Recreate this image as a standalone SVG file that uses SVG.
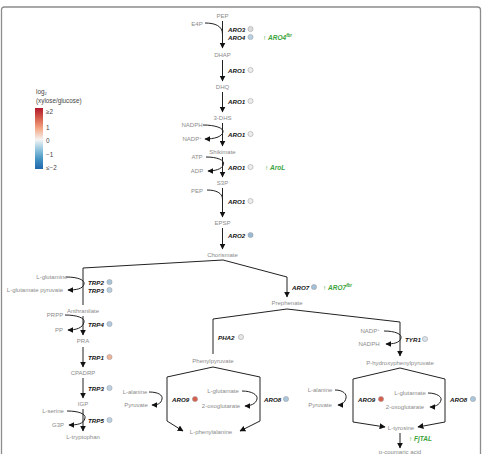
<svg xmlns="http://www.w3.org/2000/svg" width="484" height="454" viewBox="0 0 484 454">
<defs>
<marker id="ah" viewBox="0 0 10 10" refX="9" refY="5" markerWidth="6" markerHeight="6" markerUnits="userSpaceOnUse" orient="auto"><path d="M0,0 L10,5 L0,10 z" fill="#111"/></marker>
<linearGradient id="lg" x1="0" y1="0" x2="0" y2="1">
<stop offset="0" stop-color="#b2182b"/><stop offset="0.17" stop-color="#d6604d"/><stop offset="0.33" stop-color="#f4a582"/><stop offset="0.52" stop-color="#f4f4f4"/><stop offset="0.68" stop-color="#92c5de"/><stop offset="0.84" stop-color="#4393c3"/><stop offset="1" stop-color="#2166ac"/>
</linearGradient>
</defs>
<style>
text{font-family:"Liberation Sans",Arial,sans-serif;dominant-baseline:central}
.m{font-size:6px;fill:#8a8a8a;text-anchor:middle}
.e{font-size:6.2px;font-weight:bold;font-style:italic;fill:#111}
.g{font-size:6.5px;font-weight:bold;font-style:italic;fill:#3aa33a}
.l{font-size:6.3px;fill:#444}
.c{stroke:#999;stroke-width:0.5}
.ln{fill:none;stroke:#222;stroke-width:1}
.a{fill:none;stroke:#222;stroke-width:1;marker-end:url(#ah)}
</style>
<path d="M1.5,454 V10 Q1.5,7 4.5,7 H477.5 Q480.5,7 480.5,10 V454" fill="none" stroke="#8c8c8c" stroke-width="1.3"/>
<g id="legend">
<text class="l" x="36" y="91">log<tspan font-size="4" dy="2">2</tspan></text>
<text class="l" x="36" y="100">(xylose/glucose)</text>
<rect x="35" y="108" width="8" height="61" fill="url(#lg)"/>
<text class="l" x="46" y="111">≥2</text>
<text class="l" x="46" y="127">1</text>
<text class="l" x="46" y="140">0</text>
<text class="l" x="46" y="154">−1</text>
<text class="l" x="46" y="167">≤−2</text>
</g>
<g id="connectors">
<line class="a" x1="222.5" y1="21" x2="222.5" y2="48"/>
<path class="ln" d="M205,23 C215,23 222.5,26 222.5,34"/>
<line class="a" x1="222.5" y1="60" x2="222.5" y2="81"/>
<line class="a" x1="222.5" y1="92" x2="222.5" y2="112"/>
<line class="a" x1="222.5" y1="123" x2="222.5" y2="146"/>
<path class="a" d="M203,125 C215,125 224,128 223,132 C222,137 214,139 205,139"/>
<line class="a" x1="222.5" y1="157" x2="222.5" y2="177"/>
<path class="a" d="M206,157 C217,157 225,160 223.5,164.5 C222,169.5 214,171 208,171"/>
<line class="a" x1="222.5" y1="188" x2="222.5" y2="217"/>
<path class="ln" d="M207,190 C216,190 222.5,193 222.5,199"/>
<line class="a" x1="222.5" y1="228" x2="222.5" y2="249"/>
<path class="a" d="M83,305 V268 L223,260 L287,277 V297"/>
<path class="a" d="M66,277 C78,277 85,280 84,284 C83,289 76,290 68,290"/>
<line class="a" x1="83" y1="316" x2="83" y2="335"/>
<path class="a" d="M65,315 C77,315 85,318 84,322 C83,328 76,330 68,330"/>
<line class="a" x1="83" y1="347" x2="83" y2="367"/>
<line class="a" x1="83" y1="378" x2="83" y2="398"/>
<line class="a" x1="83" y1="409" x2="83" y2="431"/>
<path class="a" d="M67,411 C79,411 86,414 85,418 C84,424 77,425 69,425"/>
<path class="a" d="M213,354 V319 L287,309 L400,322 V356"/>
<path class="a" d="M384,331 C395,331 402,334 401,338 C400,343 393,344 386,344"/>
<path class="a" d="M213,367 L167,377 V421 L183,431"/>
<path class="a" d="M213,367 L260,377 V421 L240,431"/>
<path class="a" d="M149,392 C158,392 163,395 162,399 C161,404 157,405 152,405"/>
<path class="a" d="M242,391 C252,391 258,395 257,399 C256,404 250,406 245,406"/>
<path class="a" d="M400,368 L353,379 V422 L385,427"/>
<path class="a" d="M400,368 L445,379 V422 L418,427"/>
<path class="a" d="M335,390 C343,390 347,394 346,398 C345,403 341,405 338,405"/>
<path class="a" d="M428,393 C437,393 442,397 441,400 C440,405 434,407 430,407"/>
<line class="a" x1="400" y1="433" x2="400" y2="448"/>
</g>
<g id="PEP"><text class="m" x="222.5" y="16">PEP</text></g>
<g id="E4P"><text class="m" x="197" y="24">E4P</text></g>
<g id="ARO3"><text class="e" x="228" y="29">ARO3</text><circle class="c" cx="250.5" cy="29" r="2.6" fill="#dcdcdc"/></g>
<g id="ARO4"><text class="e" x="228" y="37">ARO4</text><circle class="c" cx="250.5" cy="37" r="2.6" fill="#b9cfe2"/></g>
<g id="ARO4fbr"><text class="g" x="263" y="37"><tspan font-style="normal" font-weight="normal">↑ </tspan>ARO4<tspan font-size="4.5" dy="-2.5">fbr</tspan></text></g>
<g id="DHAP"><text class="m" x="222.5" y="55">DHAP</text></g>
<g id="ARO1a"><text class="e" x="228" y="70">ARO1</text><circle class="c" cx="250.5" cy="70" r="2.6" fill="#ececec"/></g>
<g id="DHQ"><text class="m" x="222.5" y="87">DHQ</text></g>
<g id="ARO1b"><text class="e" x="228" y="101">ARO1</text><circle class="c" cx="250.5" cy="101" r="2.6" fill="#ececec"/></g>
<g id="DHS"><text class="m" x="222.5" y="118">3-DHS</text></g>
<g id="NADPH1"><text class="m" x="192" y="125">NADPH</text></g>
<g id="NADP1"><text class="m" x="192" y="139">NADP<tspan font-size="4" dy="-2">+</tspan></text></g>
<g id="ARO1c"><text class="e" x="228" y="134">ARO1</text><circle class="c" cx="250.5" cy="134" r="2.6" fill="#ececec"/></g>
<g id="Shikimate"><text class="m" x="222.5" y="152">Shikimate</text></g>
<g id="ATP"><text class="m" x="197" y="157">ATP</text></g>
<g id="ADP"><text class="m" x="197" y="171">ADP</text></g>
<g id="ARO1d"><text class="e" x="228" y="167">ARO1</text><circle class="c" cx="250.5" cy="167" r="2.6" fill="#ececec"/></g>
<g id="AroL"><text class="g" x="265" y="167" font-style="normal"><tspan font-weight="normal">↑ </tspan>AroL</text></g>
<g id="S3P"><text class="m" x="222.5" y="183">S3P</text></g>
<g id="PEP2"><text class="m" x="197" y="191">PEP</text></g>
<g id="ARO1e"><text class="e" x="228" y="201">ARO1</text><circle class="c" cx="250.5" cy="201" r="2.6" fill="#ececec"/></g>
<g id="EPSP"><text class="m" x="222.5" y="223">EPSP</text></g>
<g id="ARO2"><text class="e" x="228" y="235">ARO2</text><circle class="c" cx="250.5" cy="235" r="2.6" fill="#9bbad6"/></g>
<g id="Chorismate"><text class="m" x="222.5" y="255">Chorismate</text></g>
<g id="ARO7"><text class="e" x="292" y="287">ARO7</text><circle class="c" cx="314" cy="287" r="2.6" fill="#a3c0d9"/></g>
<g id="ARO7fbr"><text class="g" x="323" y="287"><tspan font-style="normal" font-weight="normal">↑ </tspan>ARO7<tspan font-size="4.5" dy="-2.5">fbr</tspan></text></g>
<g id="Lglutamine"><text class="m" x="52" y="277">L-glutamine</text></g>
<g id="Lglutpyr"><text class="m" x="35" y="290">L-glutamate pyruvate</text></g>
<g id="TRP2"><text class="e" x="88" y="282">TRP2</text><circle class="c" cx="109.5" cy="282" r="2.6" fill="#a9c5dc"/></g>
<g id="TRP3a"><text class="e" x="88" y="290">TRP3</text><circle class="c" cx="109.5" cy="290" r="2.6" fill="#b9cfe2"/></g>
<g id="Anthranilate"><text class="m" x="83" y="311">Anthranilate</text></g>
<g id="PRPP"><text class="m" x="55" y="315">PRPP</text></g>
<g id="PP"><text class="m" x="59" y="330">PP</text></g>
<g id="TRP4"><text class="e" x="88" y="324">TRP4</text><circle class="c" cx="109.5" cy="324" r="2.6" fill="#b3cae0"/></g>
<g id="PRA"><text class="m" x="83" y="341">PRA</text></g>
<g id="TRP1"><text class="e" x="88" y="357">TRP1</text><circle class="c" cx="109.5" cy="357" r="2.6" fill="#f0b49b"/></g>
<g id="CPADRP"><text class="m" x="83" y="373">CPADRP</text></g>
<g id="TRP3b"><text class="e" x="88" y="388">TRP3</text><circle class="c" cx="109.5" cy="388" r="2.6" fill="#bdd2e4"/></g>
<g id="IGP"><text class="m" x="83" y="404">IGP</text></g>
<g id="Lserine"><text class="m" x="53" y="411">L-serine</text></g>
<g id="G3P"><text class="m" x="58" y="425">G3P</text></g>
<g id="TRP5"><text class="e" x="88" y="420">TRP5</text><circle class="c" cx="109.5" cy="420" r="2.6" fill="#bdd2e4"/></g>
<g id="Ltryptophan"><text class="m" x="83" y="437">L-tryptophan</text></g>
<g id="Prephenate"><text class="m" x="287" y="303">Prephenate</text></g>
<g id="PHA2"><text class="e" x="218" y="337">PHA2</text><circle class="c" cx="241" cy="337" r="2.6" fill="#e6e6e6"/></g>
<g id="Phenylpyruvate"><text class="m" x="213" y="361">Phenylpyruvate</text></g>
<g id="Lalanine1"><text class="m" x="135" y="392">L-alanine</text></g>
<g id="Pyruvate1"><text class="m" x="136" y="405">Pyruvate</text></g>
<g id="ARO9a"><text class="e" x="172" y="399">ARO9</text><circle class="c" cx="195" cy="399" r="2.6" fill="#d6604d"/></g>
<g id="Lglutamate1"><text class="m" x="223" y="391">L-glutamate</text></g>
<g id="oxo1"><text class="m" x="221" y="406">2-oxoglutarate</text></g>
<g id="ARO8a"><text class="e" x="264" y="399">ARO8</text><circle class="c" cx="286" cy="399" r="2.6" fill="#a9c6dd"/></g>
<g id="Lphenylalanine"><text class="m" x="211" y="432">L-phenylalanine</text></g>
<g id="NADP2"><text class="m" x="370" y="331">NADP<tspan font-size="4" dy="-2">+</tspan></text></g>
<g id="NADPH2"><text class="m" x="369" y="344">NADPH</text></g>
<g id="TYR1"><text class="e" x="405" y="339">TYR1</text><circle class="c" cx="425" cy="339" r="2.6" fill="#d8e2ec"/></g>
<g id="HPP"><text class="m" x="400" y="363">P-hydroxyphenylpyruvate</text></g>
<g id="Lalanine2"><text class="m" x="320" y="390">L-alanine</text></g>
<g id="Pyruvate2"><text class="m" x="320" y="405">Pyruvate</text></g>
<g id="ARO9b"><text class="e" x="358" y="399">ARO9</text><circle class="c" cx="381" cy="399" r="2.6" fill="#d6604d"/></g>
<g id="Lglutamate2"><text class="m" x="410" y="393">L-glutamate</text></g>
<g id="oxo2"><text class="m" x="405" y="407">2-oxoglutarate</text></g>
<g id="ARO8b"><text class="e" x="450" y="399">ARO8</text><circle class="c" cx="473" cy="399" r="2.6" fill="#a9c6dd"/></g>
<g id="Ltyrosine"><text class="m" x="401" y="428">L-tyrosine</text></g>
<g id="FjTAL"><text class="g" x="409" y="438"><tspan font-style="normal" font-weight="normal">↑ </tspan>FjTAL</text></g>
<g id="pcoumaric"><text class="m" x="400" y="452">p-coumaric acid</text></g>
</svg>
